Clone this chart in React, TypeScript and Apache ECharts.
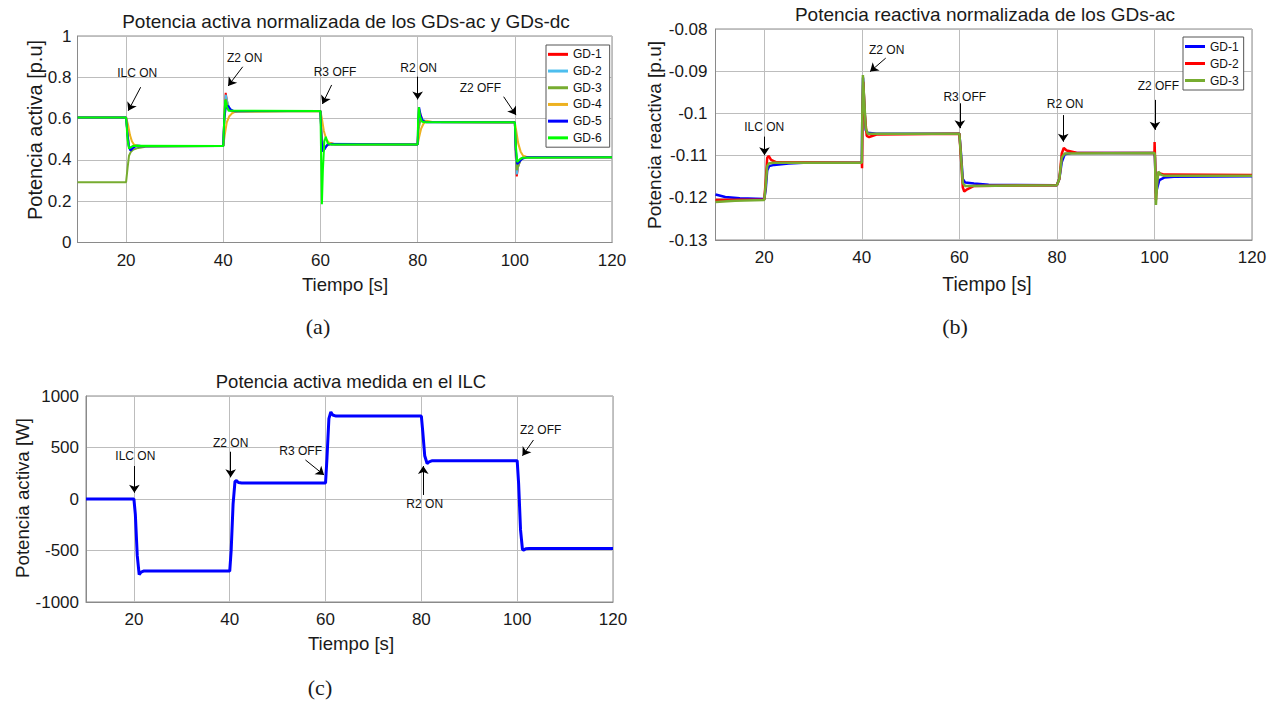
import React, { useEffect, useRef } from "react";
import * as echarts from "echarts";

const FONT = '"Liberation Sans", Arial, Helvetica, sans-serif';
const SERIF = '"Liberation Serif", "DejaVu Serif", serif';

// ---------- shared tick labels ----------
const xTicks = [20, 40, 60, 80, 100, 120];

// ---------- (a) active power, normalised ----------
const gd1a = [[10,0.605],[20,0.605],[20.3,0.53],[20.6,0.46],[20.9,0.455],[21.3,0.465],[22,0.47],[23,0.467],[40,0.467],[40.2,0.6],[40.5,0.725],[40.8,0.68],[41.2,0.645],[42,0.632],[43,0.637],[60,0.637],[60.2,0.52],[60.5,0.455],[60.8,0.45],[61.3,0.47],[62,0.482],[63,0.476],[80,0.475],[80.2,0.6],[80.5,0.625],[81,0.59],[82,0.585],[83,0.583],[100,0.582],[100.2,0.42],[100.4,0.32],[100.7,0.37],[101.2,0.405],[102,0.415],[103,0.413],[120,0.413]];
const gd2a = [[10,0.605],[20,0.605],[20.3,0.53],[20.6,0.465],[20.9,0.45],[21.3,0.462],[22,0.472],[23,0.468],[40,0.467],[40.2,0.59],[40.5,0.715],[40.8,0.685],[41.2,0.65],[42,0.634],[60,0.637],[60.2,0.52],[60.5,0.46],[60.8,0.45],[61.3,0.47],[62,0.478],[80,0.475],[80.2,0.58],[80.5,0.61],[81,0.595],[82,0.585],[100,0.582],[100.2,0.43],[100.4,0.33],[100.7,0.37],[101.2,0.405],[102,0.414],[120,0.413]];
const gd3a = [[10,0.292],[20,0.292],[20.3,0.36],[20.6,0.42],[21,0.44],[21.5,0.45],[22.5,0.458],[24,0.464],[40,0.467],[40.2,0.58],[40.5,0.695],[40.8,0.67],[41.3,0.64],[42,0.634],[60,0.637],[60.2,0.53],[60.5,0.47],[60.8,0.46],[61.3,0.47],[62,0.476],[80,0.475],[80.2,0.55],[80.6,0.595],[81.2,0.59],[82,0.584],[100,0.582],[100.2,0.45],[100.4,0.35],[100.7,0.37],[101.2,0.4],[102,0.413],[120,0.413]];
const gd4a = [[10,0.605],[20,0.605],[20.4,0.57],[20.8,0.52],[21.2,0.49],[21.6,0.475],[22.5,0.467],[40,0.467],[40.3,0.52],[40.7,0.58],[41.2,0.61],[41.8,0.625],[42.5,0.634],[60,0.637],[60.3,0.6],[60.7,0.54],[61.2,0.5],[61.7,0.485],[62.5,0.477],[80,0.475],[80.3,0.51],[80.7,0.55],[81.2,0.575],[81.8,0.59],[83,0.584],[100,0.582],[100.3,0.54],[100.7,0.48],[101.2,0.44],[101.7,0.42],[102.5,0.413],[120,0.413]];
const gd5a = [[10,0.605],[20,0.605],[20.3,0.52],[20.6,0.46],[20.9,0.445],[21.3,0.455],[22,0.466],[40,0.467],[40.2,0.6],[40.5,0.65],[41,0.662],[41.5,0.645],[42.2,0.636],[60,0.637],[60.2,0.5],[60.5,0.44],[60.9,0.455],[61.5,0.475],[62.5,0.477],[80,0.475],[80.1,0.58],[80.3,0.655],[80.6,0.62],[81,0.59],[81.8,0.582],[100,0.582],[100.2,0.45],[100.5,0.38],[100.9,0.39],[101.5,0.405],[102.5,0.413],[120,0.413]];
const gd6a = [[10,0.605],[20,0.605],[20.3,0.5],[20.6,0.455],[21,0.462],[21.5,0.468],[40,0.467],[40.2,0.6],[40.4,0.69],[40.7,0.66],[41.1,0.638],[60,0.637],[60.15,0.4],[60.3,0.185],[60.5,0.35],[60.8,0.49],[61.1,0.512],[61.5,0.48],[62.2,0.475],[80,0.475],[80.1,0.6],[80.25,0.655],[80.5,0.61],[80.9,0.585],[81.5,0.582],[100,0.582],[100.2,0.47],[100.5,0.39],[100.9,0.4],[101.5,0.41],[120,0.413]];
const namesA = ["GD-1", "GD-2", "GD-3", "GD-4", "GD-5", "GD-6"];
const colorsA = ["#ff0000", "#4dbeee", "#77ac30", "#edb120", "#0000ff", "#00ff00"];
const dataA = [gd1a, gd2a, gd3a, gd4a, gd5a, gd6a];

// ---------- (b) reactive power, normalised ----------
const gd1b = [[10,-0.1192],[12,-0.1198],[15,-0.1201],[20,-0.1203],[20.3,-0.118],[20.6,-0.1135],[21,-0.1125],[22,-0.1122],[25,-0.1119],[28,-0.1117],[40,-0.1117],[40.1,-0.1],[40.25,-0.0915],[40.5,-0.098],[40.8,-0.104],[41.2,-0.1046],[43,-0.1048],[60,-0.1048],[60.3,-0.109],[60.7,-0.1155],[61.2,-0.1164],[63,-0.1166],[66,-0.1169],[80,-0.117],[80.5,-0.1155],[81,-0.1115],[81.6,-0.1097],[83,-0.1094],[100,-0.1094],[100.1,-0.1105],[100.3,-0.119],[100.6,-0.1175],[101,-0.1158],[102,-0.1152],[104,-0.115],[120,-0.1149]];
const gd2b = [[10,-0.1205],[20,-0.1204],[20.3,-0.116],[20.6,-0.1105],[20.9,-0.1101],[21.4,-0.111],[22.5,-0.1116],[40,-0.1117],[40.05,-0.113],[40.15,-0.1],[40.3,-0.0925],[40.6,-0.1],[41,-0.1053],[41.5,-0.1056],[43,-0.105],[60,-0.1048],[60.3,-0.11],[60.7,-0.1175],[61,-0.1185],[61.6,-0.118],[63,-0.1172],[80,-0.117],[80.5,-0.1155],[81,-0.1095],[81.4,-0.1082],[82,-0.1088],[84,-0.1093],[100,-0.1094],[100.03,-0.1068],[100.15,-0.112],[100.3,-0.1205],[100.6,-0.115],[101,-0.1142],[102,-0.1145],[120,-0.1146]];
const gd3b = [[10,-0.121],[14,-0.1207],[20,-0.1205],[20.3,-0.117],[20.6,-0.1125],[21,-0.1118],[22,-0.1117],[40,-0.1117],[40.1,-0.1],[40.22,-0.0909],[40.5,-0.097],[40.8,-0.1035],[41.2,-0.1048],[60,-0.1048],[60.3,-0.1095],[60.7,-0.1165],[61.2,-0.1172],[62,-0.1172],[80,-0.117],[80.5,-0.1155],[81,-0.1105],[81.6,-0.1095],[100,-0.1094],[100.1,-0.11],[100.3,-0.1217],[100.55,-0.1165],[100.8,-0.1138],[101.3,-0.1145],[102,-0.1148],[120,-0.1148]];
const namesB = ["GD-1", "GD-2", "GD-3"];
const colorsB = ["#0000ff", "#ff0000", "#77ac30"];
const dataB = [gd1b, gd2b, gd3b];

// ---------- (c) active power at the ILC ----------
const ilcPower = [[10,0],[20,0],[20.3,-150],[20.7,-550],[21.1,-735],[21.5,-710],[22,-700],[40,-700],[40.3,-500],[40.7,-50],[41.1,170],[41.4,178],[41.8,160],[42.5,155],[60,155],[60.3,400],[60.7,780],[61.1,845],[61.5,815],[62.2,805],[80,805],[80.3,650],[80.7,420],[81.2,345],[81.6,360],[82.3,372],[100,372],[100.3,150],[100.7,-300],[101.1,-490],[101.4,-497],[101.8,-482],[102.5,-480],[120,-480]];

// ---------- event annotations (text position, arrow start, arrow end) ----------
const annA = [
  { text: "ILC ON", pos: [22.3, 0.822], from: [23.0, 0.752], to: [20.45, 0.638] },
  { text: "Z2 ON", pos: [44.4, 0.895], from: [44.0, 0.851], to: [41.0, 0.758] },
  { text: "R3 OFF", pos: [63.0, 0.824], from: [62.3, 0.763], to: [60.4, 0.671] },
  { text: "R2 ON", pos: [80.2, 0.843], from: [80.0, 0.803], to: [80.0, 0.693] },
  { text: "Z2 OFF", pos: [92.9, 0.747], from: [97.7, 0.706], to: [100.25, 0.617] },
];
const annB = [
  { text: "ILC ON", pos: [20.0, -0.1032], from: [20.05, -0.1055], to: [20.05, -0.1099] },
  { text: "Z2 ON", pos: [45.1, -0.085], from: [44.9, -0.0869], to: [41.7, -0.0901] },
  { text: "R3 OFF", pos: [61.1, -0.096], from: [60.1, -0.0976], to: [60.1, -0.1035] },
  { text: "R2 ON", pos: [81.7, -0.0978], from: [81.3, -0.1004], to: [81.3, -0.1067] },
  { text: "Z2 OFF", pos: [100.8, -0.0935], from: [100.1, -0.0968], to: [100.1, -0.1039] },
];
const annC = [
  { text: "ILC ON", pos: [20.3, 420], from: [20.1, 320], to: [20.1, 61] },
  { text: "Z2 ON", pos: [40.2, 547], from: [40.2, 459], to: [40.2, 210] },
  { text: "R3 OFF", pos: [54.8, 466], from: [55.8, 379], to: [59.7, 233] },
  { text: "R2 ON", pos: [80.7, -49], from: [80.4, 39], to: [80.4, 320] },
  { text: "Z2 OFF", pos: [104.9, 670], from: [103.4, 573], to: [101.1, 420] },
];

const AXIS_COLOR = "#8a8a8a";
const GRID_COLOR = "#bdbdbd";

function xAxis(gi: number) {
  return {
    type: "value",
    gridIndex: gi,
    min: 10,
    max: 120,
    axisLine: { show: true, onZero: false, lineStyle: { color: AXIS_COLOR, width: 1 } },
    axisTick: { show: false, customValues: xTicks },
    axisLabel: { customValues: xTicks, margin: 9, color: "#1a1a1a", fontSize: 17, fontFamily: FONT },
    splitLine: { show: true, lineStyle: { color: GRID_COLOR, width: 1 } },
  };
}
function yAxis(gi: number, min: number, max: number, interval: number, margin: number) {
  return {
    type: "value",
    gridIndex: gi,
    min,
    max,
    interval,
    axisLine: { show: true, onZero: false, lineStyle: { color: AXIS_COLOR, width: 1 } },
    axisTick: { show: false },
    axisLabel: { margin, color: "#1a1a1a", fontSize: 17, fontFamily: FONT, formatter: (v: number) => String(+v.toFixed(4)) },
    splitLine: { show: true, lineStyle: { color: GRID_COLOR, width: 1 } },
  };
}
function lineSeries(name: string, data: number[][], color: string, width: number, gi: number) {
  return {
    type: "line",
    name,
    data,
    xAxisIndex: gi,
    yAxisIndex: gi,
    showSymbol: false,
    symbol: "none",
    silent: true,
    z: 3,
    lineStyle: { color, width },
    itemStyle: { color },
  };
}
function annSeries(gi: number, ann: { text: string; pos: number[]; from: number[]; to: number[] }[]) {
  return {
    type: "line",
    data: [],
    xAxisIndex: gi,
    yAxisIndex: gi,
    silent: true,
    z: 6,
    markLine: {
      silent: true,
      symbol: ["none", "arrow"],
      symbolSize: 8,
      label: { show: false },
      lineStyle: { color: "#000", width: 1, type: "solid" },
      emphasis: { disabled: true },
      data: ann.map((a) => [{ coord: a.from }, { coord: a.to }]),
    },
    markPoint: {
      symbol: "circle",
      symbolSize: 0,
      silent: true,
      label: { show: true, position: "inside", formatter: "{b}", color: "#111", fontSize: 12, fontFamily: FONT },
      data: ann.map((a) => ({ name: a.text, coord: a.pos })),
    },
  };
}
function txt(text: string, x: number, y: number, size: number, rot = 0, family = FONT) {
  return {
    type: "text",
    x,
    y,
    rotation: rot,
    silent: true,
    style: {
      text,
      font: `normal ${size}px ${family}`,
      fill: "#1a1a1a",
      textAlign: "center",
      textVerticalAlign: "middle",
      align: "center",
      verticalAlign: "middle",
    },
  };
}

export default function App() {
  const ref = useRef<HTMLDivElement>(null);
  useEffect(() => {
    if (!ref.current) return;
    const chart = echarts.init(ref.current, null, { renderer: "svg" });
    const gridBox = { show: true, borderColor: AXIS_COLOR, borderWidth: 1, backgroundColor: "#fff" };
    const legendBase = {
      orient: "vertical",
      itemWidth: 20,
      itemHeight: 3,
      icon: "rect",
      itemGap: 0,
      borderColor: "#555",
      borderWidth: 1,
      backgroundColor: "#fff",
      selectedMode: false,
      formatter: (n: string) => n.replace(/^[ab]:/, ""),
      textStyle: { fontSize: 12, fontFamily: FONT, color: "#111", lineHeight: 16.7 },
    };
    const option = {
      animation: false,
      backgroundColor: "#fff",
      grid: [
        { left: 77.5, top: 36, width: 534.5, height: 206.5, ...gridBox },
        { left: 715.5, top: 29, width: 536.5, height: 211, ...gridBox },
        { left: 86, top: 396, width: 527, height: 206, ...gridBox },
      ],
      xAxis: [xAxis(0), xAxis(1), xAxis(2)],
      yAxis: [yAxis(0, 0, 1, 0.2, 6), yAxis(1, -0.13, -0.08, 0.01, 8), yAxis(2, -1000, 1000, 500, 7)],
      legend: [
        { ...legendBase, data: namesA.map((n) => "a:" + n), left: 546, top: 45, padding: [1, 8, 1, 2] },
        { ...legendBase, data: namesB.map((n) => "b:" + n), left: 1183, top: 37, padding: [1, 5, 1, 2], textStyle: { ...legendBase.textStyle, lineHeight: 17 } },
      ],
      series: [
        ...dataA.map((d, i) => lineSeries("a:" + namesA[i], d, colorsA[i], 2, 0)),
        ...dataB.map((d, i) => lineSeries("b:" + namesB[i], d, colorsB[i], 2.5, 1)),
        lineSeries("ILC", ilcPower, "#0000ff", 3, 2),
        annSeries(0, annA),
        annSeries(1, annB),
        annSeries(2, annC),
      ],
      graphic: [
        txt("Potencia activa normalizada de los GDs-ac y GDs-dc", 346, 21, 19),
        txt("Potencia reactiva normalizada de los GDs-ac", 985, 14, 19),
        txt("Potencia activa medida en el ILC", 351, 381, 18.5),
        txt("Potencia activa [p.u]", 35, 130, 20, Math.PI / 2),
        txt("Potencia reactiva [p.u]", 654.5, 135, 19, Math.PI / 2),
        txt("Potencia activa [W]", 22.6, 498, 18.7, Math.PI / 2),
        txt("Tiempo [s]", 345, 284, 18.6),
        txt("Tiempo [s]", 987, 284, 19.3),
        txt("Tiempo [s]", 351, 643, 18.6),
        txt("(a)", 318, 326, 22, 0, SERIF),
        txt("(b)", 955, 326, 22, 0, SERIF),
        txt("(c)", 320, 687, 22, 0, SERIF),
      ],
    };
    chart.setOption(option as any);
    return () => chart.dispose();
  }, []);
  return <div ref={ref} style={{ position: "absolute", left: 0, top: 0, width: 1279, height: 704 }} />;
}
